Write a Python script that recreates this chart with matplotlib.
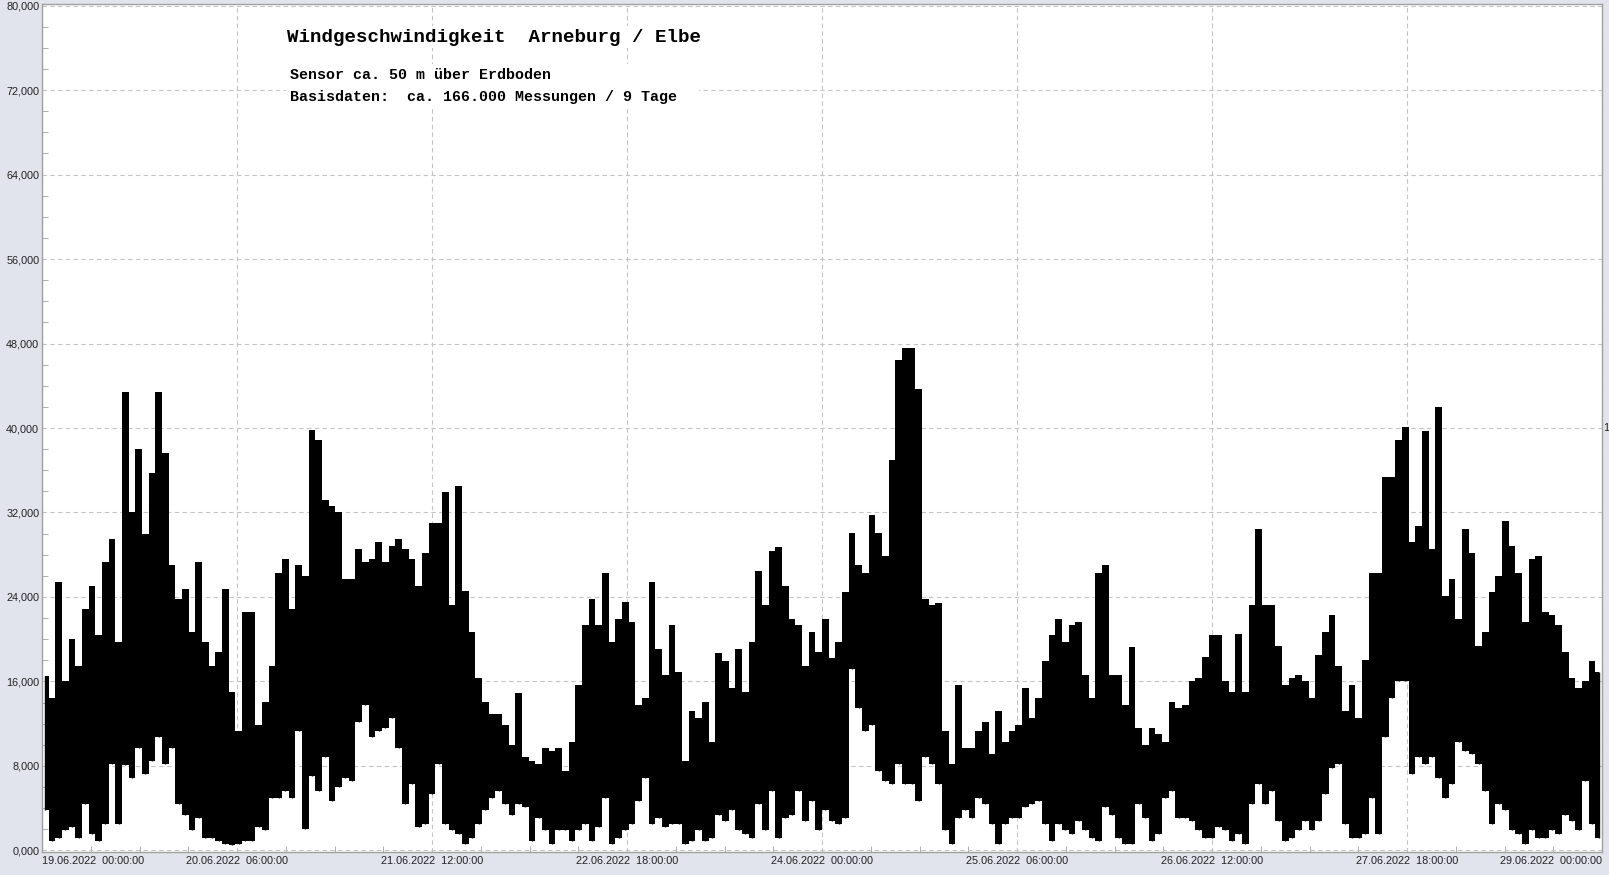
"""
Windgeschwindigkeit Arneburg / Elbe - 9-Tage-Verlauf
"""

import numpy as np
import matplotlib.pyplot as plt
from matplotlib.ticker import MultipleLocator, FixedLocator

# Hüllkurven (km/h), je Block ca. 40 Stunden, 39 Werte
max_block1 = [16.5, 14.4, 25.4, 16, 20, 17.5, 22.9, 25, 20.4, 27.3, 29.5, 19.7, 43.4, 32, 38, 30,
              35.7, 43.4, 37.6, 27, 23.8, 24.8, 20.7, 27.3, 19.7, 17.5, 18.8, 24.8, 15, 11.3, 22.6,
              22.6, 11.9, 14.1, 17.5, 26.3, 27.6, 22.9, 27]
min_block1 = [3.8, 0.9, 1.2, 1.9, 2.2, 1.2, 4.4, 1.6, 0.9, 2.5, 8.2, 2.5, 8.1, 6.9, 9.7, 7.2, 8.5,
              10.7, 8.2, 9.7, 4.4, 3.4, 1.9, 3.1, 1.2, 1.2, 0.9, 0.6, 0.5, 0.6, 0.9, 0.9, 2.2, 1.9,
              5, 5, 5.6, 5, 11.3]

max_block2 = [26, 39.8, 38.9, 33.2, 32.6, 32, 25.7, 25.7, 28.5, 27.3, 27.6, 29.2, 27.3, 28.8, 29.5,
              28.5, 27.6, 25, 28.2, 31, 31, 33.9, 23.2, 34.5, 24.6, 20.7, 16.3, 14.1, 12.9, 12.9,
              11.9, 10, 14.9, 8.8, 8.5, 8.2, 9.7, 9.4, 9.7]
min_block2 = [2, 7, 5.6, 8.8, 4.7, 6, 6.9, 6.6, 12.2, 13.8, 10.7, 11.3, 11.6, 12.5, 9.7, 4.4, 6.3,
              2.2, 2.5, 5.3, 8.2, 2.5, 1.9, 1.6, 0.6, 1.2, 2.5, 3.8, 5, 5.6, 4.4, 3.4, 4.4, 4.1,
              0.9, 3.1, 1.9, 0.6, 1.9]

max_block3 = [7.5, 10.3, 15.7, 21.3, 23.8, 21.3, 26.3, 19.7, 21.9, 23.5, 21.6, 13.8, 14.4, 25.4,
              19.1, 16.6, 21.3, 16.9, 8.5, 13.2, 12.5, 14.1, 10.3, 18.7, 17.9, 15.4, 19.1, 15,
              19.7, 26.5, 23.2, 28.4, 28.7, 25, 21.9, 21.3, 17.5, 20.7, 18.8]
min_block3 = [1.9, 0.9, 1.9, 2.5, 0.9, 2.2, 5, 0.6, 1.2, 1.9, 2.5, 4.7, 6.9, 2.5, 3.1, 2.2, 2.5,
              2.5, 0.6, 0.9, 1.9, 0.9, 1.2, 3.4, 2.8, 3.8, 1.9, 1.6, 1.2, 4.4, 1.9, 5.6, 1.2, 3.1,
              3.4, 5.6, 2.8, 4.7, 1.9]

max_block4 = [21.9, 18.2, 19.7, 24.5, 30.1, 27, 26.3, 31.8, 30.1, 27.9, 37, 46.4, 47.6, 47.6,
              43.7, 23.8, 23.2, 23.4, 11.3, 8.2, 15.7, 9.7, 9.7, 11.3, 12.2, 9.1, 13.2, 10.3,
              11.3, 11.9, 15.4, 12.5, 14.4, 17.9, 20.4, 21.9, 19.7, 21.3, 21.6]
min_block4 = [3.8, 2.8, 2.5, 3.1, 17.2, 13.5, 11.3, 11.9, 7.5, 6.6, 6.3, 8.2, 6.3, 6.3, 4.7, 8.8,
              8.2, 6.3, 1.9, 0.6, 3.1, 3.8, 3.1, 5, 4.4, 2.5, 0.6, 2.5, 3.1, 3.1, 4.1, 4.4, 4.7,
              2.5, 0.9, 2.5, 1.9, 1.6, 2.8]

max_block5 = [16.6, 14.4, 26.3, 27, 16.6, 16.6, 13.8, 19.3, 11.6, 10, 11.6, 11, 10.3, 14.1, 13.5,
              13.8, 16, 16.3, 18.3, 20.4, 20.4, 16, 15, 20.5, 15, 23.2, 30.4, 23.2, 23.2, 19.4,
              15.7, 16.3, 16.6, 16, 14.4, 18.5, 20.7, 22.3, 17.5]
min_block5 = [1.9, 1.2, 0.9, 4.1, 3.4, 1.2, 0.6, 0.6, 4.4, 3.1, 0.9, 1.6, 5, 5.6, 3.1, 3.1, 2.8,
              1.9, 1.2, 1.2, 2.2, 1.9, 0.9, 1.6, 0.6, 4.4, 6.3, 4.4, 5.6, 2.8, 0.9, 1.2, 1.9, 2.8,
              1.9, 2.8, 5.3, 7.8, 8.2]

max_block6 = [13.2, 15.7, 12.5, 18, 26.3, 26.3, 35.4, 35.4, 38.9, 40.1, 29.2, 30.7, 39.7, 28.5,
              42, 24.1, 25.7, 21.9, 30.4, 28.2, 19.4, 20.7, 24.5, 26, 31.2, 28.8, 26.3, 21.6,
              27.6, 27.9, 22.6, 22.3, 21.3, 18.8, 16.3, 15.4, 16, 17.9, 16.9]
min_block6 = [2.5, 1.2, 1.2, 1.6, 5, 1.6, 10.7, 14.4, 16, 16, 7.2, 8.8, 8.2, 8.8, 6.9, 5, 6.3,
              10.3, 9.4, 9.1, 8.2, 5.6, 2.5, 4.4, 3.8, 1.9, 1.6, 0.6, 1.9, 1.2, 1.2, 1.9, 1.6,
              3.4, 2.8, 1.9, 6.6, 2.5, 1.2]

x_tick_labels = ['19.06.2022  00:00:00', '20.06.2022  06:00:00', '21.06.2022  12:00:00',
                 '22.06.2022  18:00:00', '24.06.2022  00:00:00', '25.06.2022  06:00:00',
                 '26.06.2022  12:00:00', '27.06.2022  18:00:00', '29.06.2022  00:00:00']

TOTAL_HOURS = 240

wind_max = np.array(max_block1 + max_block2 + max_block3 + max_block4 + max_block5 + max_block6)
wind_min = np.array(min_block1 + min_block2 + min_block3 + min_block4 + min_block5 + min_block6)
hours = (np.arange(len(wind_max)) + 0.5) * TOTAL_HOURS / len(wind_max)

# Figur
W, H = 1609, 875
fig = plt.figure(figsize=(W / 100, H / 100), dpi=100, facecolor='#e1e4ec')
ax = fig.add_axes([42 / W, (H - 852) / H, (1602 - 42) / W, (852 - 4) / H])
ax.set_facecolor('white')

# Messwerte: je Zeitschritt senkrechter Strich von Minimum bis Maximum
ax.fill_between(hours, wind_min, wind_max, step='mid', color='black', linewidth=0, zorder=3)
ax.vlines(hours, wind_min, wind_max, color='black', linewidth=1.0, zorder=3)

ax.set_xlim(0, TOTAL_HOURS)
ax.set_ylim(-0.15, 80.15)

# Achsen
major_x = np.arange(0, TOTAL_HOURS + 1, 30)
ax.xaxis.set_major_locator(FixedLocator(major_x))
ax.xaxis.set_minor_locator(MultipleLocator(7.5))
ax.set_xticklabels(x_tick_labels)
xl = ax.get_xticklabels()
xl[0].set_horizontalalignment('left')
xl[-1].set_horizontalalignment('right')

ax.yaxis.set_major_locator(MultipleLocator(8))
ax.yaxis.set_minor_locator(MultipleLocator(2))
ax.set_yticklabels([f'{v:.3f}'.replace('.', ',') for v in ax.get_yticks()])

ax.tick_params(which='both', direction='in', color='#a0a0a0', labelsize=7.8,
               labelcolor='#222222', labelfontfamily='Liberation Sans')
ax.tick_params(which='major', length=0, pad=3)
ax.tick_params(which='minor', length=4)
ax.tick_params(axis='y', which='major', pad=2)

for s in ax.spines.values():
    s.set_color('#a0a0a0')
    s.set_linewidth(1.0)

ax.grid(True, which='major', color='#c4c4c4', linestyle=(0, (4, 3)), linewidth=0.8, zorder=0)
ax.set_axisbelow(True)

# Beschriftung
mono = 'Liberation Mono'
fig.text(287 / W, 1 - 37 / H, 'Windgeschwindigkeit  Arneburg / Elbe', fontfamily=mono,
         fontweight='bold', fontsize=13.8, va='center', ha='left',
         bbox=dict(facecolor='white', edgecolor='none', pad=2))
fig.text(290 / W, 1 - 86 / H, 'Sensor ca. 50 m über Erdboden\nBasisdaten:  ca. 166.000 Messungen / 9 Tage  ',
         fontfamily=mono, fontweight='bold', fontsize=10.8, va='center', ha='left',
         linespacing=1.7, bbox=dict(facecolor='white', edgecolor='none', pad=3))

fig.text(1603 / W, 1 - 428 / H, '1', fontsize=7.8, fontfamily='Liberation Sans',
         va='center', ha='left', color='#222222')

plt.savefig('out.png', dpi=100, facecolor=fig.get_facecolor())
